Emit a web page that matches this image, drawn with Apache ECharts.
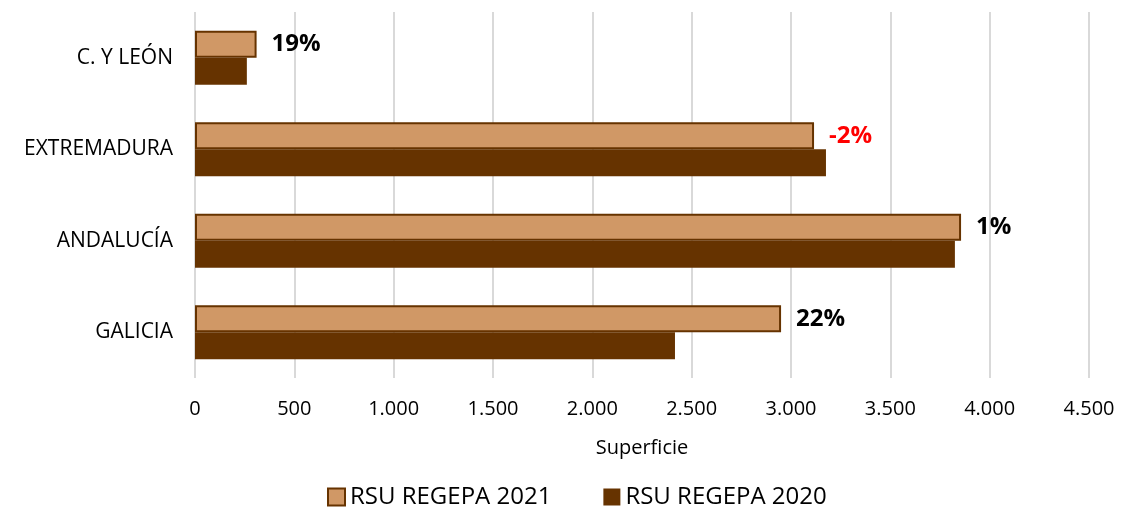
<!DOCTYPE html>
<html lang="es">
<head>
    <meta charset="UTF-8">
    <title>RSU REGEPA</title>
    <script src="https://fastly.jsdelivr.net/npm/echarts@6/dist/echarts.min.js"></script>
    <style>
        body { margin: 0; background: #fff; }
    </style>
</head>
<body>
    <div id="dv" style="width:1121px;height:515px;"></div>
</body>
<script>
   // datos (de abajo a arriba en el eje)
   var regiones = ['GALICIA', 'ANDALUCÍA', 'EXTREMADURA', 'C. Y LEÓN']
   var rsu2021 = [2950, 3856, 3116, 310]
   var rsu2020 = [2416, 3825, 3176, 261]
   var variacion = ['22%', '1%', '-2%', '19%']
   var ticksX = [0, 500, 1000, 1500, 2000, 2500, 3000, 3500, 4000, 4500]

   var fuente = 'Open Sans'
   var myChart = echarts.init(document.getElementById('dv'))

   var option = {
        animation: false,
        textStyle: { fontFamily: fuente },
        grid: {
            left: 195,
            right: 32,
            top: 12,
            bottom: 137
        },
        legend: {
            bottom: 1,
            left: 322,
            icon: 'rect',
            itemWidth: 17,
            itemHeight: 17,
            itemGap: 52,
            textStyle: { fontSize: 24, color: '#000', fontFamily: fuente },
            data: ['RSU REGEPA 2021', 'RSU REGEPA 2020']
        },
        xAxis: {
            type: 'value',
            min: ticksX[0],
            max: ticksX[ticksX.length - 1],
            interval: 500,
            name: 'Superficie',
            nameLocation: 'middle',
            nameGap: 60,
            nameTextStyle: { fontSize: 20, color: '#000' },
            axisLine: { show: false },
            axisTick: { show: false },
            axisLabel: {
                fontSize: 20,
                color: '#000',
                margin: 21,
                formatter: function (v) {
                    return v.toString().replace(/\B(?=(\d{3})+(?!\d))/g, '.')
                }
            },
            splitLine: { lineStyle: { color: '#d9d9d9', width: 2 } }
        },
        yAxis: {
            type: 'category',
            data: regiones,
            axisLine: { show: false },
            axisTick: { show: false },
            axisLabel: { fontSize: 21, color: '#000', margin: 22 }
        },
        series: [{
            name: 'RSU REGEPA 2021',
            type: 'bar',
            barGap: '0%',
            barCategoryGap: '41%',
            itemStyle: { color: '#D09866', borderColor: '#663300', borderWidth: 2 },
            label: {
                show: true,
                position: 'right',
                distance: 15,
                fontSize: 24,
                fontWeight: 'bold',
                fontFamily: fuente,
                formatter: function (p) { return variacion[p.dataIndex] },
                color: '#000'
            },
            data: rsu2021
        }, {
            name: 'RSU REGEPA 2020',
            type: 'bar',
            itemStyle: { color: '#663300' },
            data: rsu2020
        }]
   }
   // color rojo para la variación negativa
   option.series[0].data = rsu2021.map(function (v, i) {
       var neg = variacion[i].charAt(0) === '-'
       return { value: v, label: { color: neg ? '#FF0000' : '#000' } }
   })
   myChart.setOption(option)
</script>
</html>
